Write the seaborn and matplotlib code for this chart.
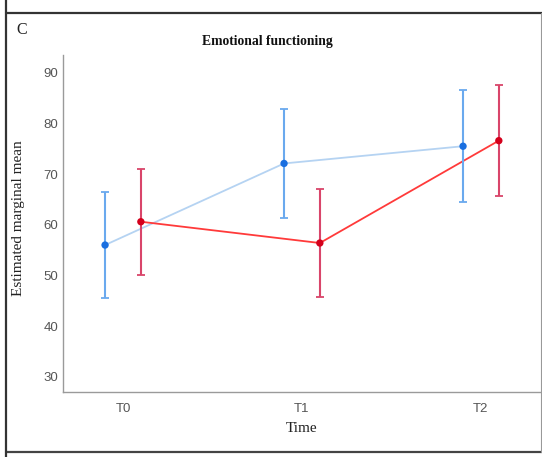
import matplotlib
matplotlib.use("Agg")
import matplotlib.pyplot as plt
import seaborn as sns
import pandas as pd
import numpy as np
from matplotlib.lines import Line2D

# ---- data ----
times = ["T0", "T1", "T2"]
group_a_mean = [56.0, 72.1, 75.5]
group_a_lo = [45.5, 61.3, 64.4]
group_a_hi = [66.4, 82.9, 86.6]
group_b_mean = [60.6, 56.4, 76.6]
group_b_lo = [50.0, 45.7, 65.6]
group_b_hi = [71.0, 67.1, 87.5]
yticks = [30, 40, 50, 60, 70, 80, 90]

sns.set_theme(style="white")
plt.rcParams['font.family'] = ['Liberation Sans', 'DejaVu Sans']

W, H = 542, 457
fig = plt.figure(figsize=(W / 100, H / 100), dpi=100)
ax = fig.add_axes([63 / W, 1 - 392 / H, (540 - 63) / W, (392 - 55) / H])

series = [
    ("A", group_a_mean, group_a_lo, group_a_hi, -0.1,
     "#b5d3f2", "#1a6fe0", "#6aa9ee"),
    ("B", group_b_mean, group_b_lo, group_b_hi, 0.1,
     "#ff3a3a", "#d4001c", "#d9456a"),
]

for name, mean, lo, hi, off, lcol, mcol, ecol in series:
    x = np.arange(len(times)) + off
    df = pd.DataFrame({"x": x, "y": mean})
    sns.lineplot(data=df, x="x", y="y", ax=ax, color=lcol, lw=1.3,
                 legend=False, zorder=2)
    mean_a = np.array(mean)
    yerr = np.vstack([mean_a - np.array(lo), np.array(hi) - mean_a])
    ax.errorbar(x, mean_a, yerr=yerr, fmt="none", ecolor=ecol,
                elinewidth=1.5, capsize=3.2, capthick=1.3, zorder=3)
    sns.scatterplot(data=df, x="x", y="y", ax=ax, color=mcol, s=28,
                    edgecolor="none", legend=False, zorder=4)

ax.set_xlim(-0.335, 2.33)
ax.set_ylim(27.0, 93.5)
ax.set_xticks(range(len(times)))
ax.set_xticklabels(times)
ax.set_yticks(yticks)
ax.tick_params(axis="both", length=0, labelsize=9.5, labelcolor="#555555")
ax.tick_params(axis="x", pad=8)
ax.tick_params(axis="y", pad=3.5)
for s in ["top", "right"]:
    ax.spines[s].set_visible(False)
for s in ["left", "bottom"]:
    ax.spines[s].set_color("#9a9a9a")
    ax.spines[s].set_linewidth(1.0)
ax.set_xlabel("")
ax.set_ylabel("")

serif = ['Liberation Serif', 'DejaVu Serif']
fig.text(267 / W, 1 - 42 / H, "Emotional functioning", family=serif,
         fontweight="bold", fontsize=9.8, ha="center", va="center", color="#111111")
fig.text(302 / W, 1 - 429 / H, "Time", family=serif, fontsize=11,
         ha="center", va="center", color="#222222")
fig.text(19 / W, 1 - 218 / H, "Estimated marginal mean", family=serif,
         fontsize=11, ha="center", va="center", rotation=90, color="#222222")
fig.text(16 / W, 1 - 30 / H, "C", family=serif, fontsize=11.5,
         ha="left", va="center", color="#222222")

# outer frame
fig.add_artist(Line2D([6 / W, 1], [1 - 13 / H, 1 - 13 / H],
                      transform=fig.transFigure, color="#333333", lw=1.6))
fig.add_artist(Line2D([6 / W, 1], [1 - 452 / H, 1 - 452 / H],
                      transform=fig.transFigure, color="#444444", lw=1.6))
fig.add_artist(Line2D([6 / W, 6 / W], [0, 1],
                      transform=fig.transFigure, color="#333333", lw=1.6))
fig.add_artist(Line2D([541 / W, 541 / W], [1 - 452 / H, 1 - 13 / H],
                      transform=fig.transFigure, color="#999999", lw=0.8))

fig.savefig("out.png", dpi=100)
